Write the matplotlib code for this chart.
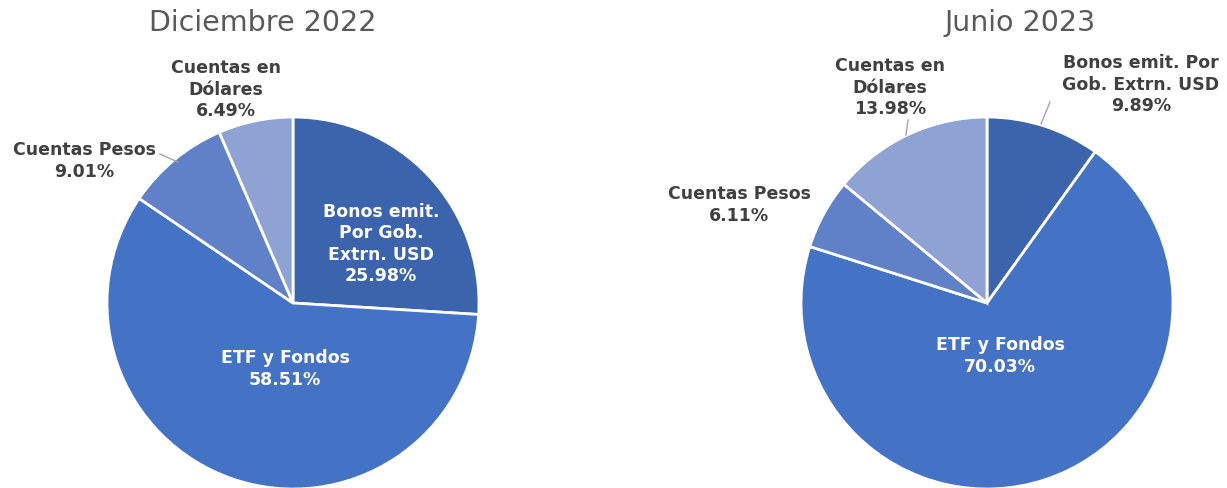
import matplotlib
matplotlib.use("Agg")
import matplotlib.pyplot as plt

# --- données ---
categorias = ["Bonos emit. Por Gob. Extrn. USD", "ETF y Fondos", "Cuentas Pesos", "Cuentas en Dólares"]
dic_2022 = [25.98, 58.51, 9.01, 6.49]
jun_2023 = [9.89, 70.03, 6.11, 13.98]
titulos = ["Diciembre 2022", "Junio 2023"]
colores = ["#3B64AD", "#4472C4", "#6081C8", "#8FA2D4"]

W, H = 1227, 489
fig = plt.figure(figsize=(W / 100, H / 100), dpi=100)
ax = fig.add_axes([0, 0, 1, 1])


def Y(y_top):
    # coordonnées pixel depuis le haut -> données
    return H - y_top


def pastel(centro, valores):
    ax.pie(valores, colors=colores, startangle=90, counterclock=False,
           center=(centro[0], Y(centro[1])), radius=186,
           wedgeprops=dict(edgecolor="white", linewidth=2))


pastel((293, 304), dic_2022)
pastel((987, 304), jun_2023)

ax.set_xlim(0, W)
ax.set_ylim(0, H)
ax.set_aspect("equal")
ax.axis("off")

# titres
ax.text(263, Y(23), titulos[0], ha="center", va="center", fontsize=20.5, color="#595959")
ax.text(1020, Y(23), titulos[1], ha="center", va="center", fontsize=20.5, color="#595959")

oscuro = "#404040"
kw = dict(ha="center", va="center", fontsize=12.5, fontweight="bold", linespacing=1.25)

# Diciembre 2022
ax.text(226, Y(90), "Cuentas en\nDólares\n%.2f%%" % dic_2022[3], color=oscuro, **kw)
ax.text(84, Y(161), "Cuentas Pesos\n%.2f%%" % dic_2022[2], color=oscuro, **kw)
ax.text(381, Y(244), "Bonos emit.\nPor Gob.\nExtrn. USD\n%.2f%%" % dic_2022[0], color="white", **kw)
ax.text(285, Y(369), "ETF y Fondos\n%.2f%%" % dic_2022[1], color="white", **kw)
ax.plot([160, 178], [Y(155), Y(163)], color="#A6A6A6", lw=1)

# Junio 2023
ax.text(890, Y(88), "Cuentas en\nDólares\n%.2f%%" % jun_2023[3], color=oscuro, **kw)
ax.text(1141, Y(85), "Bonos emit. Por\nGob. Extrn. USD\n%.2f%%" % jun_2023[0], color=oscuro, **kw)
ax.text(739, Y(205), "Cuentas Pesos\n%.2f%%" % jun_2023[2], color=oscuro, **kw)
ax.text(1000, Y(356), "ETF y Fondos\n%.2f%%" % jun_2023[1], color="white", **kw)
ax.plot([908, 906], [Y(121), Y(136)], color="#A6A6A6", lw=1)
ax.plot([1050, 1041], [Y(103), Y(125)], color="#A6A6A6", lw=1)

fig.savefig("out.png", dpi=100, facecolor="white")
